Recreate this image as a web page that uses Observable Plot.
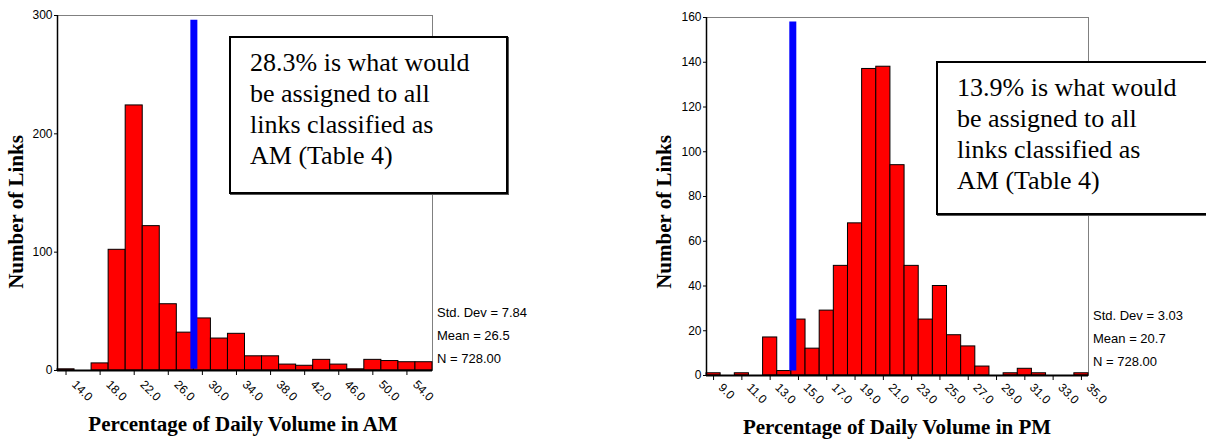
<!DOCTYPE html>
<html>
<head>
<meta charset="utf-8">
<script src="https://cdn.jsdelivr.net/npm/d3@7"></script>
<script src="https://cdn.jsdelivr.net/npm/@observablehq/plot@0.6"></script>
<style>
  html, body { margin: 0; padding: 0; background: #fff; }
  body { width: 1206px; height: 442px; position: relative; overflow: hidden; font-family: Arial, "Liberation Sans", sans-serif; }
  .chart { position: absolute; top: 0; }
  .ann { position: absolute; box-sizing: border-box; border: 2px solid #000; background: #fff;
         font-family: "Liberation Serif", "Times New Roman", "DejaVu Serif", serif; font-size: 26px; line-height: 31px;
         color: #000; padding: 9.4px 0 0 19px; white-space: nowrap; box-shadow: 1px 1px 0 #555; }
  .xlab { position: absolute; font-family: "Liberation Serif", "Times New Roman", serif; font-weight: bold;
          font-size: 21px; line-height: 21px; white-space: nowrap; transform: translateX(-50%); color: #000; }
  .ylab { position: absolute; font-family: "Liberation Serif", "Times New Roman", serif; font-weight: bold;
          font-size: 21px; line-height: 21px; white-space: nowrap; transform: translate(-50%, -50%) rotate(-90deg); color: #000; }
  .stat { position: absolute; font-family: Arial, "Liberation Sans", sans-serif; font-size: 13px; line-height: 23px; white-space: nowrap; color: #000; }
</style>
</head>
<body>
<div id="am" class="chart" style="left:0px"></div>
<div id="pm" class="chart" style="left:600px"></div>

<div class="ann" style="left:229px; top:36px; width:279px; height:158px;">28.3% is what would<br>be assigned to all<br>links classified as<br>AM (Table 4)</div>
<div class="ann" style="left:936px; top:61px; width:290px; height:154px;">13.9% is what would<br>be assigned to all<br>links classified as<br>AM (Table 4)</div>

<div class="xlab" style="left:243px; top:414px;">Percentage of Daily Volume in AM</div>
<div class="xlab" style="left:897px; top:417px;">Percentage of Daily Volume in PM</div>
<div class="ylab" style="left:16px; top:212px;">Number of Links</div>
<div class="ylab" style="left:664px; top:212px;">Number of Links</div>

<div class="stat" style="left:437px; top:301px;">Std. Dev = 7.84<br>Mean = 26.5<br>N = 728.00</div>
<div class="stat" style="left:1093px; top:304px;">Std. Dev = 3.03<br>Mean = 20.7<br>N = 728.00</div>

<script>
// ---- AM histogram ----
const amBinCenters = [14,16,18,20,22,24,26,28,30,32,34,36,38,40,42,44,46,48,50,52,54,56];
const amCounts     = [1,0,6,102,224,122,56,32,44,27,31,12,12,5,4,9,5,1,9,8,7,7];
const amBinWidth = 2;
const amXTicks = [14,18,22,26,30,34,38,42,46,50,54];
const amYTicks = [0,100,200,300];
const amRefX = 29.0;      // blue reference line position (as drawn)
const amRefTop = 296;

// ---- PM histogram ----
const pmBinCenters = [9,10,11,12,13,14,15,16,17,18,19,20,21,22,23,24,25,26,27,28,29,30,31,32,33,34,35];
const pmCounts     = [1,0,1,0,17,2,25,12,29,49,68,137,138,94,49,25,40,18,13,4,0,1,3,1,0,0,1];
const pmBinWidth = 1;
const pmXTicks = [9,11,13,15,17,19,21,23,25,27,29,31,33,35];
const pmYTicks = [0,20,40,60,80,100,120,140,160];
const pmRefX = 14.6;
const pmRefTop = 158;

function hist({centers, counts, binWidth, xTicks, yTicks, refX, refBottom, refTop, xDomain, yDomain, width, margins, labelDx, labelDy}) {
  const data = centers.map((c, i) => ({x1: c - binWidth / 2, x2: c + binWidth / 2, count: counts[i]}));
  return Plot.plot({
    width, height: 442,
    marginLeft: margins[0], marginRight: margins[1], marginTop: margins[2], marginBottom: margins[3],
    x: {domain: xDomain},
    y: {domain: yDomain},
    style: {fontFamily: "Arial, 'Liberation Sans', sans-serif", fontSize: "12px", background: "transparent", color: "#000", overflow: "visible"},
    marks: [
      Plot.frame({stroke: "#808080", strokeWidth: 1}),
      Plot.rectY(data, {x1: "x1", x2: "x2", y: "count", fill: "#ff0000", stroke: "#000", strokeWidth: 1}),
      Plot.ruleX([refX], {y1: refBottom, y2: refTop, stroke: "#0000ff", strokeWidth: 7}),
      Plot.ruleY([0], {stroke: "#000", strokeWidth: 2}),
      Plot.ruleX([xDomain[0]], {stroke: "#000", strokeWidth: 1.5}),
      Plot.axisY({ticks: yTicks, tickSize: 3, tickPadding: 2, label: null, fontSize: 12}),
      Plot.axisX({ticks: xTicks, tickFormat: () => "", tickSize: 5, label: null}),
      Plot.text(xTicks, {x: d => d, frameAnchor: "bottom", text: d => d.toFixed(1), rotate: 45,
        textAnchor: "start", lineAnchor: "middle", dx: labelDx, dy: labelDy, fontSize: 12, fill: "#000", clip: false})
    ]
  });
}

document.getElementById("am").append(hist({
  centers: amBinCenters, counts: amCounts, binWidth: amBinWidth, xTicks: amXTicks, yTicks: amYTicks,
  refX: amRefX, refBottom: 1, refTop: amRefTop, xDomain: [13, 57], yDomain: [0, 300],
  width: 600, margins: [57, 168, 15, 72], labelDx: 8, labelDy: 12
}));
document.getElementById("pm").append(hist({
  centers: pmBinCenters, counts: pmCounts, binWidth: pmBinWidth, xTicks: pmXTicks, yTicks: pmYTicks,
  refX: pmRefX, refBottom: 2, refTop: pmRefTop, xDomain: [8.5, 35.5], yDomain: [0, 160],
  width: 606, margins: [106, 118, 17, 67], labelDx: 7, labelDy: 10
}));
</script>
</body>
</html>
